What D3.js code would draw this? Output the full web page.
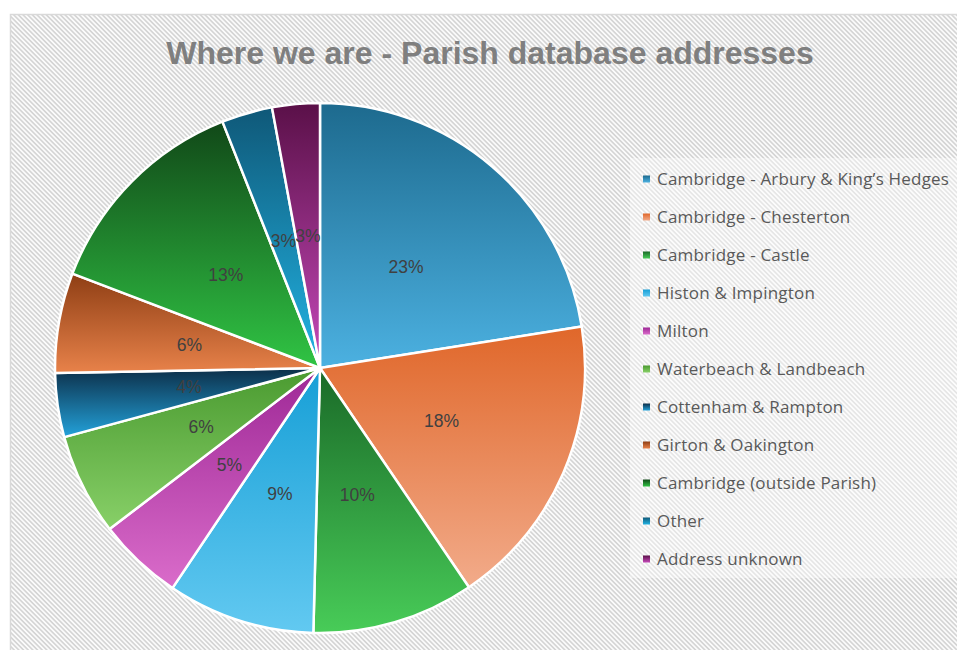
<!DOCTYPE html>
<html>
<head>
<meta charset="utf-8">
<script src="https://cdn.jsdelivr.net/npm/d3@7"></script>
<style>
  body { margin: 0; background: #fff; }
  svg { display: block; }
</style>
</head>
<body>
<svg id="chart"></svg>
<script>
const [width, height] = [957, 650];

// data (share of addresses, %)
const categories = [
  'Cambridge - Arbury & King\u2019s Hedges',
  'Cambridge - Chesterton',
  'Cambridge - Castle',
  'Histon & Impington',
  'Milton',
  'Waterbeach & Landbeach',
  'Cottenham & Rampton',
  'Girton & Oakington',
  'Cambridge (outside Parish)',
  'Other',
  'Address unknown'
];
const shares = [22.5, 18.0, 9.9, 9.0, 5.2, 6.2, 3.9, 6.1, 13.2, 3.1, 2.9];

// gradient ends for each slice (top, bottom)
const topColors = ['#1d6a8e', '#e0672a', '#1a6a28', '#179fd6', '#9e2896', '#4a9a30',
                   '#0c2e48', '#8e3e14', '#114818', '#0f5878', '#5a1048'];
const bottomColors = ['#4cb1e1', '#f2ab8a', '#48cc58', '#62c9f1', '#da6cca', '#88d068',
                      '#23a2da', '#e8824a', '#30c444', '#22b4e4', '#c64aba'];

const cx = 320, cy = 368, r = 265;

const svg = d3.select('#chart')
  .attr('width', width)
  .attr('height', height);

const defs = svg.append('defs');
const stripes = defs.append('pattern')
  .attr('id', 'stripes')
  .attr('patternUnits', 'userSpaceOnUse')
  .attr('width', 3.3)
  .attr('height', 3.3)
  .attr('patternTransform', 'rotate(45)');
stripes.append('rect')
  .attr('width', 3.3).attr('height', 3.3)
  .attr('fill', '#fbfbfb');
stripes.append('rect')
  .attr('width', 3.3).attr('height', 1.6)
  .attr('fill', '#d4d4d4');

categories.forEach((c, i) => {
  const g = defs.append('linearGradient')
    .attr('id', 'grad' + i)
    .attr('x1', 0).attr('y1', 0)
    .attr('x2', 0).attr('y2', 1);
  g.append('stop').attr('offset', '0%').attr('stop-color', topColors[i]);
  g.append('stop').attr('offset', '100%').attr('stop-color', bottomColors[i]);
});

// chart area
svg.append('rect')
  .attr('x', 10.5).attr('y', 14.5)
  .attr('width', 970).attr('height', 660)
  .attr('fill', 'url(#stripes)')
  .attr('stroke', '#d9d9d9')
  .attr('stroke-width', 1.5);

svg.append('text')
  .attr('x', 490)
  .attr('y', 64)
  .attr('text-anchor', 'middle')
  .attr('font-family', 'Liberation Sans, Arial, sans-serif')
  .attr('font-weight', 'bold')
  .attr('font-size', 32)
  .attr('fill', '#7f7f7f')
  .text('Where we are - Parish database addresses');

const pie = d3.pie().sort(null).value(d => d);
const arcs = pie(shares);
const total = d3.sum(shares);
const arc = d3.arc().innerRadius(0).outerRadius(r);
const labelArc = d3.arc().innerRadius(r / 2).outerRadius(r / 2);

const pieG = svg.append('g')
  .attr('transform', `translate(${cx}, ${cy})`);

pieG.selectAll('path')
  .data(arcs)
  .join('path')
  .attr('d', arc)
  .attr('fill', (d, i) => `url(#grad${i})`)
  .attr('stroke', '#fff')
  .attr('stroke-width', 2.5)
  .attr('stroke-linejoin', 'round');

pieG.selectAll('text')
  .data(arcs)
  .join('text')
  .attr('transform', d => `translate(${labelArc.centroid(d)})`)
  .attr('text-anchor', 'middle')
  .attr('dy', '0.35em')
  .attr('font-family', 'Liberation Sans, Arial, sans-serif')
  .attr('font-size', 17.5)
  .attr('fill', '#404040')
  .text(d => Math.round(d.value / total * 100) + '%');

// legend
const legend = svg.append('g');
legend.append('rect')
  .attr('x', 630).attr('y', 158)
  .attr('width', 330).attr('height', 420)
  .attr('fill', '#fff')
  .attr('opacity', 0.4);

const rowY = d3.scalePoint()
  .domain(categories)
  .range([179, 559]);

const rows = legend.selectAll('g.row')
  .data(categories)
  .join('g')
  .attr('class', 'row')
  .attr('transform', d => `translate(643, ${rowY(d)})`);

rows.append('rect')
  .attr('x', 0).attr('y', -3.5)
  .attr('width', 7).attr('height', 7)
  .attr('fill', (d, i) => `url(#grad${i})`);

rows.append('text')
  .attr('x', 14)
  .attr('dy', '0.35em')
  .attr('font-family', 'Open Sans, sans-serif')
  .attr('font-size', 17)
  .attr('letter-spacing', 0.2)
  .attr('fill', '#595959')
  .text(d => d);
</script>
</body>
</html>
